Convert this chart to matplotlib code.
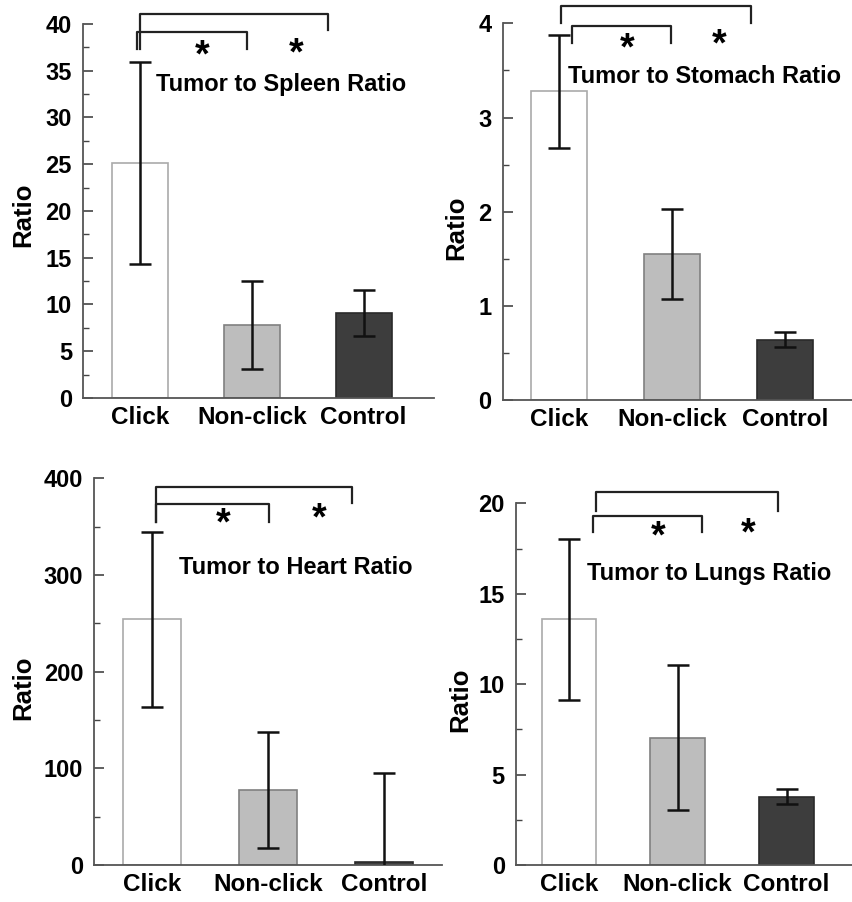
import matplotlib
matplotlib.use('Agg')
import matplotlib.pyplot as plt
from matplotlib.ticker import MultipleLocator

plt.rcParams['font.family'] = ['Liberation Sans', 'DejaVu Sans']
plt.rcParams['font.weight'] = 'bold'
# звёздочки через mathtext, чтобы рамка текста была по самому знаку
plt.rcParams['mathtext.fontset'] = 'custom'
plt.rcParams['mathtext.bf'] = 'Liberation Sans:bold'
plt.rcParams['mathtext.rm'] = 'Liberation Sans:bold'

# данные
groups = ['Click', 'Non-click', 'Control']
titles = ['Tumor to Spleen Ratio', 'Tumor to Stomach Ratio',
          'Tumor to Heart Ratio', 'Tumor to Lungs Ratio']

spleen = [25.1, 7.8, 9.1]
spleen_err = [10.8, 4.7, 2.5]
stomach = [3.28, 1.55, 0.64]
stomach_err = [0.60, 0.48, 0.08]
heart = [254, 78, 3.5]
heart_err = [91, 60, 92]
lungs = [13.6, 7.05, 3.78]
lungs_err = [4.45, 4.0, 0.42]

means = [spleen, stomach, heart, lungs]
errs = [spleen_err, stomach_err, heart_err, lungs_err]
ymax = [40, 4, 400, 20]
ymajor = [5, 1, 100, 5]

fill_colors = ['white', '#bdbdbd', '#3d3d3d']
edge_colors = ['#aaaaaa', '#808080', '#2a2a2a']

# расположение осей (доли фигуры) и пределы по x
positions = [
    [0.0973, 0.5588, 0.4115, 0.4146],
    [0.5893, 0.5565, 0.4107, 0.4176],
    [0.1106, 0.0410, 0.4076, 0.4287],
    [0.6049, 0.0410, 0.3950, 0.4010],
]
xlims = [(-0.51, 2.63), (-0.5, 2.6), (-0.5, 2.5), (-0.485, 2.61)]

# скобки значимости: (x1, x2, y, низ левой ноги, низ правой ноги)
brackets = [
    [(0.0, 1.68, 41.07, 37.3, 39.4), (-0.03, 0.96, 39.1, 37.3, 37.3)],
    [(0.02, 1.70, 4.18, 4.0, 4.0), (0.11, 0.99, 3.97, 3.79, 3.79)],
    [(0.03, 1.72, 391, 355, 374), (0.03, 1.01, 373, 355, 355)],
    [(0.25, 1.92, 20.6, 19.6, 19.6), (0.22, 1.22, 19.3, 18.4, 18.4)],
]
stars = [
    [(0.56, 36.65), (1.40, 36.85)],
    [(0.60, 3.73), (1.42, 3.78)],
    [(0.61, 353), (1.44, 358)],
    [(0.82, 18.14), (1.65, 18.32)],
]
# положение подписи (x, y, выравнивание)
title_pos = [(1.26, 33.5, 'center'), (0.08, 3.44, 'left'),
             (1.24, 308, 'center'), (1.29, 16.1, 'center')]
ylabel_pos = [(-0.171, 0.49), (-0.133, 0.458), (-0.204, 0.458), (-0.164, 0.456)]


def draw_panel(fig, i):
    ax = fig.add_axes(positions[i])
    x = list(range(len(groups)))
    ax.bar(x, means[i], width=0.5, color=fill_colors,
           edgecolor=edge_colors, linewidth=1.2, zorder=2)
    ax.errorbar(x, means[i], yerr=errs[i], fmt='none', ecolor='#111111',
                elinewidth=1.8, capsize=8, capthick=1.8, zorder=3)

    ax.set_xlim(*xlims[i])
    ax.set_ylim(0, ymax[i])
    ax.set_xticks(x)
    ax.set_xticklabels(groups, fontsize=17.5, fontweight='bold')
    ax.yaxis.set_major_locator(MultipleLocator(ymajor[i]))
    ax.yaxis.set_minor_locator(MultipleLocator(ymajor[i] / 2))
    ax.tick_params(axis='x', length=0, pad=6)
    ax.tick_params(axis='y', which='major', direction='in', length=7,
                   width=1.2, color='#444444', labelsize=17, pad=8)
    ax.tick_params(axis='y', which='minor', direction='in', length=4,
                   width=1.0, color='#444444')
    for lab in ax.get_yticklabels():
        lab.set_fontweight('bold')

    for side in ['top', 'right']:
        ax.spines[side].set_visible(False)
    for side in ['left', 'bottom']:
        ax.spines[side].set_color('#555555')
        ax.spines[side].set_linewidth(1.3)

    ax.set_ylabel('Ratio', fontsize=18.5, fontweight='bold', va='center')
    ax.yaxis.set_label_coords(*ylabel_pos[i])

    for x1, x2, y, l1, l2 in brackets[i]:
        ax.plot([x1, x1, x2, x2], [l1, y, y, l2], color='#222222',
                lw=1.6, clip_on=False, zorder=4)
    for sx, sy in stars[i]:
        ax.text(sx, sy, r'$\mathbf{*}$', fontsize=27,
                ha='center', va='center')

    tx, ty, ha = title_pos[i]
    ax.text(tx, ty, titles[i], fontsize=17, fontweight='bold',
            ha=ha, va='center', clip_on=False)
    return ax


def main():
    fig = plt.figure(figsize=(8.53, 9.02), dpi=100)
    for i in range(4):
        draw_panel(fig, i)
    fig.savefig('out.png', dpi=100, facecolor='white')


if __name__ == '__main__':
    main()
